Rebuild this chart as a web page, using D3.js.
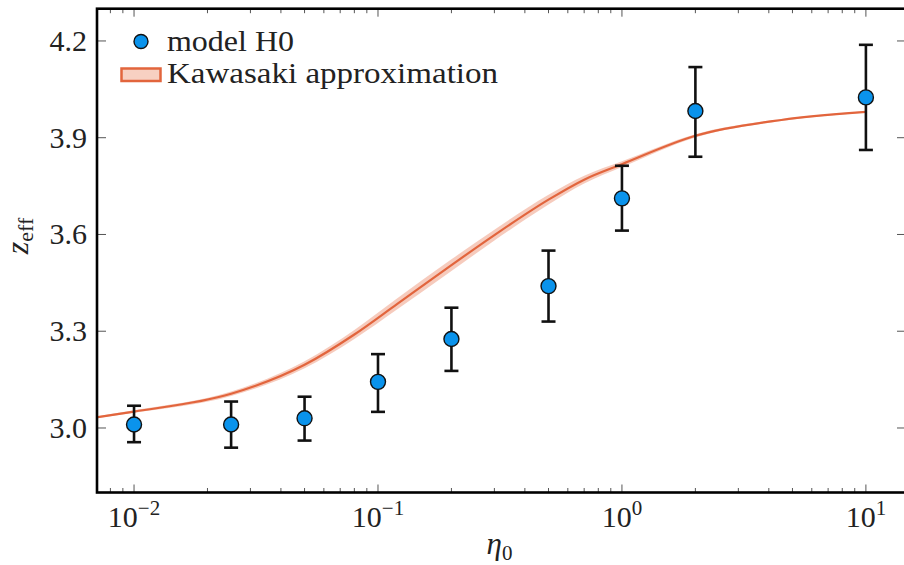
<!DOCTYPE html>
<html>
<head>
<meta charset="utf-8">
<script src="https://cdn.jsdelivr.net/npm/d3@7"></script>
<style>
  html, body { margin: 0; padding: 0; background: #fff; }
  svg { display: block; }
</style>
</head>
<body>
<svg id="chart" width="904" height="565"></svg>
<script>
// Simulation points: effective exponent vs. eta_0, with error bars
const etaValues = [0.01, 0.025, 0.05, 0.1, 0.2, 0.5, 1, 2, 10];
const zEff      = [3.011, 3.011, 3.030, 3.143, 3.276, 3.440, 3.712, 3.983, 4.025];
const zLow      = [2.956, 2.939, 2.961, 3.050, 3.177, 3.330, 3.612, 3.841, 3.862];
const zHigh     = [3.069, 3.082, 3.097, 3.229, 3.373, 3.550, 3.813, 4.119, 4.188];

// Kawasaki approximation curve with its uncertainty band
const curveEta  = [0.007, 0.01, 0.025, 0.05, 0.08, 0.12, 0.2, 0.3, 0.5, 0.7, 1, 2, 4.5, 10];
const curveZ    = [3.033, 3.051, 3.106, 3.196, 3.290, 3.385, 3.505, 3.598, 3.708, 3.770, 3.818, 3.906, 3.955, 3.980];
const curveHalf = [0.003, 0.004, 0.007, 0.011, 0.014, 0.017, 0.018, 0.017, 0.015, 0.012, 0.009, 0.005, 0.003, 0.002];

const yTicks = [3.0, 3.3, 3.6, 3.9, 4.2];
const xMajor = [0.01, 0.1, 1, 10];
const xExponents = ["\u22122", "\u22121", "0", "1"];
const legendLabels = ["model H0", "Kawasaki approximation"];

const serif = "'Liberation Serif', 'DejaVu Serif', 'Times New Roman', serif";
const textColor = "#222";

const svg = d3.select("#chart");
const plotLeft = 97, plotRight = 906, plotTop = 8.7, plotBottom = 492.5;

const x = d3.scaleLog().domain([0.00705, 14.6]).range([plotLeft, plotRight]);
const y = d3.scaleLinear().domain([2.8, 4.3]).range([plotBottom, plotTop]);

const lineColor = "#e2653d";
const bandColor = "#f4c2b1";
const dotColor = "#0a93ec";

// uncertainty band and central curve
const curvePts = curveEta.map((e, i) => ({ e, z: curveZ[i], h: curveHalf[i] }));
svg.append("path")
  .datum(curvePts)
  .attr("fill", bandColor)
  .attr("opacity", 0.85)
  .attr("d", d3.area()
    .x(d => x(d.e))
    .y0(d => y(d.z - d.h))
    .y1(d => y(d.z + d.h))
    .curve(d3.curveMonotoneX));

svg.append("path")
  .datum(curvePts)
  .attr("fill", "none")
  .attr("stroke", lineColor)
  .attr("stroke-width", 2.2)
  .attr("d", d3.line()
    .x(d => x(d.e))
    .y(d => y(d.z))
    .curve(d3.curveMonotoneX));

// error bars
const pts = etaValues.map((e, i) => ({ e, z: zEff[i], lo: zLow[i], hi: zHigh[i] }));
const eb = svg.append("g").attr("stroke", "#111").attr("stroke-width", 2.6);
eb.selectAll("line.v").data(pts).join("line")
  .attr("x1", d => x(d.e)).attr("x2", d => x(d.e))
  .attr("y1", d => y(d.lo)).attr("y2", d => y(d.hi));
eb.selectAll("line.lo").data(pts).join("line")
  .attr("x1", d => x(d.e) - 7).attr("x2", d => x(d.e) + 7)
  .attr("y1", d => y(d.lo)).attr("y2", d => y(d.lo));
eb.selectAll("line.hi").data(pts).join("line")
  .attr("x1", d => x(d.e) - 7).attr("x2", d => x(d.e) + 7)
  .attr("y1", d => y(d.hi)).attr("y2", d => y(d.hi));

svg.append("g").selectAll("circle").data(pts).join("circle")
  .attr("cx", d => x(d.e)).attr("cy", d => y(d.z))
  .attr("r", 7.5)
  .attr("fill", dotColor)
  .attr("stroke", "#111")
  .attr("stroke-width", 1.4);

// ticks (inward on all four sides)
const minorTicks = [];
for (let p = -3; p <= 1; p++) {
  for (let m = 2; m <= 9; m++) {
    const v = m * Math.pow(10, p);
    if (v > x.domain()[0] && v < x.domain()[1]) minorTicks.push(v);
  }
}
const tickG = svg.append("g").attr("stroke", "#555").attr("stroke-width", 1);
tickG.selectAll("line.xmb").data(xMajor).join("line")
  .attr("x1", d => x(d)).attr("x2", d => x(d)).attr("y1", plotBottom).attr("y2", plotBottom - 8);
tickG.selectAll("line.xmt").data(xMajor).join("line")
  .attr("x1", d => x(d)).attr("x2", d => x(d)).attr("y1", plotTop).attr("y2", plotTop + 8);
tickG.selectAll("line.xnb").data(minorTicks).join("line")
  .attr("x1", d => x(d)).attr("x2", d => x(d)).attr("y1", plotBottom).attr("y2", plotBottom - 4.5);
tickG.selectAll("line.xnt").data(minorTicks).join("line")
  .attr("x1", d => x(d)).attr("x2", d => x(d)).attr("y1", plotTop).attr("y2", plotTop + 4.5);
tickG.selectAll("line.yl").data(yTicks).join("line")
  .attr("x1", plotLeft).attr("x2", plotLeft + 9).attr("y1", d => y(d)).attr("y2", d => y(d));
tickG.selectAll("line.yr").data(yTicks).join("line")
  .attr("x1", plotRight).attr("x2", plotRight - 9).attr("y1", d => y(d)).attr("y2", d => y(d));

// frame
svg.append("rect")
  .attr("x", plotLeft).attr("y", plotTop)
  .attr("width", plotRight - plotLeft).attr("height", plotBottom - plotTop)
  .attr("fill", "none").attr("stroke", "#000").attr("stroke-width", 2.6);

// y tick labels
svg.append("g").selectAll("text").data(yTicks).join("text")
  .attr("x", 87).attr("y", d => y(d) + 10)
  .attr("text-anchor", "end")
  .attr("font-family", serif).attr("fill", textColor)
  .attr("font-size", 30)
  .text(d => d.toFixed(1));

// x tick labels: 10^n
const xl = svg.append("g").selectAll("text").data(xMajor).join("text")
  .attr("x", d => x(d)).attr("y", 527)
  .attr("text-anchor", "middle")
  .attr("font-family", serif).attr("fill", textColor)
  .attr("font-size", 30);
xl.append("tspan").text("10");
xl.append("tspan")
  .attr("dy", -12).attr("font-size", 21)
  .text((d, i) => xExponents[i]);

// axis titles
const xt = svg.append("text")
  .attr("x", (plotLeft + plotRight) / 2 - 2).attr("y", 554)
  .attr("text-anchor", "middle")
  .attr("font-family", serif).attr("fill", textColor)
  .attr("font-size", 31);
xt.append("tspan").attr("font-style", "italic").text("\u03b7");
xt.append("tspan").attr("dy", 6).attr("font-size", 21).text("0");

const yt = svg.append("text")
  .attr("transform", "translate(28,236) rotate(-90)")
  .attr("text-anchor", "middle")
  .attr("font-family", serif).attr("fill", textColor)
  .attr("font-size", 32);
yt.append("tspan").attr("font-style", "italic").text("z");
yt.append("tspan").attr("dy", 5).attr("font-size", 22).text("eff");

// legend
const legendWidths = [127, 331];
svg.append("circle")
  .attr("cx", 141).attr("cy", 41.5).attr("r", 7)
  .attr("fill", dotColor).attr("stroke", "#111").attr("stroke-width", 1.4);
svg.append("rect")
  .attr("x", 121.5).attr("y", 68.5).attr("width", 39).attr("height", 12.5)
  .attr("fill", "#f7d0c2").attr("stroke", lineColor).attr("stroke-width", 2.5);
svg.append("g").selectAll("text").data(legendLabels).join("text")
  .attr("x", 167).attr("y", (d, i) => 51 + i * 32)
  .attr("font-family", serif).attr("fill", textColor)
  .attr("font-size", 30)
  .attr("textLength", (d, i) => legendWidths[i])
  .attr("lengthAdjust", "spacingAndGlyphs")
  .text(d => d);
</script>
</body>
</html>
